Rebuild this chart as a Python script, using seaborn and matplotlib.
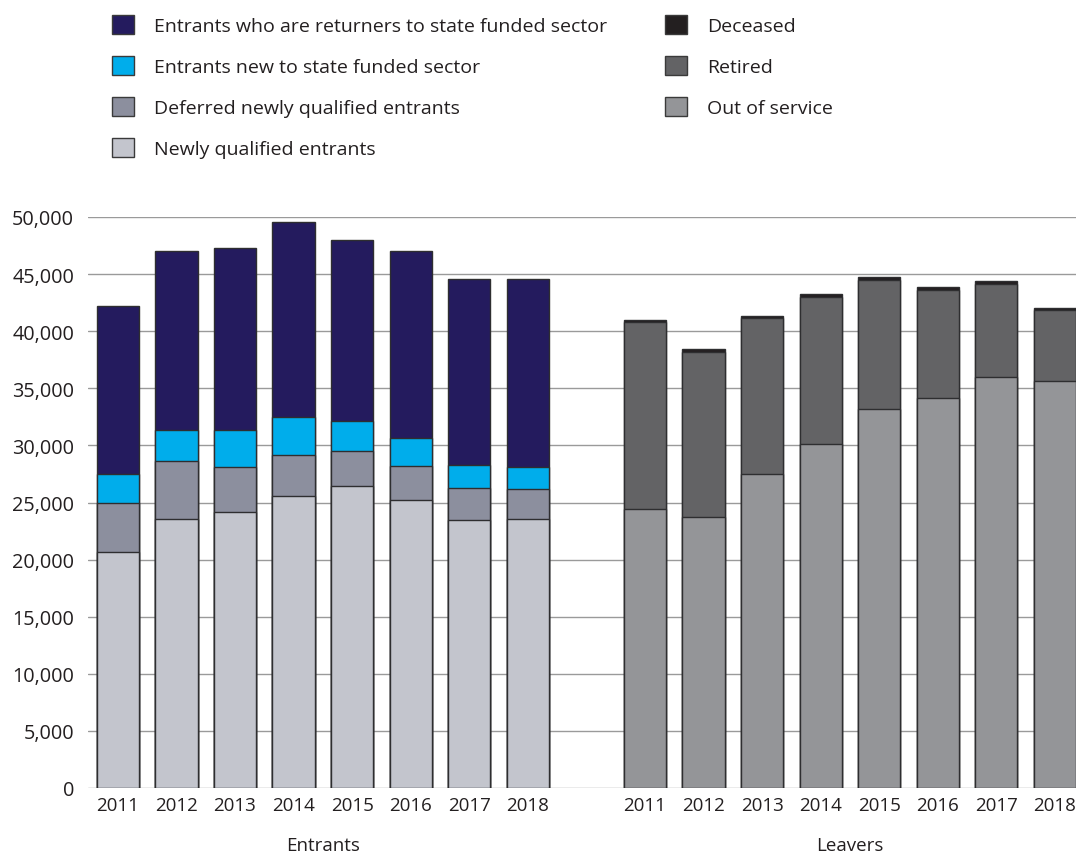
import pandas as pd
import seaborn as sns
import matplotlib.pyplot as plt
from matplotlib.patches import Patch

# --- Data ---
years = ['2011', '2012', '2013', '2014', '2015', '2016', '2017', '2018']

# Entrants, bottom to top
newly_qualified = [20650, 23550, 24150, 25600, 26450, 25200, 23500, 23550]
deferred_nq = [4300, 5080, 3990, 3590, 3030, 3020, 2770, 2630]
new_to_sector = [2540, 2750, 3240, 3270, 2690, 2400, 2040, 1960]
returners = [14760, 15620, 15940, 17140, 15850, 16430, 16260, 16430]

# Leavers, bottom to top
out_of_service = [24430, 23730, 27500, 30120, 33190, 34150, 36020, 35610]
retired = [16350, 14470, 13630, 12850, 11320, 9490, 8140, 6270]
deceased = [200, 240, 230, 290, 210, 230, 210, 180]

colors = {
    'Entrants who are returners to state funded sector': '#241b5e',
    'Entrants new to state funded sector': '#00adeb',
    'Deferred newly qualified entrants': '#8c8f9e',
    'Newly qualified entrants': '#c3c5cd',
    'Deceased': '#231f20',
    'Retired': '#636365',
    'Out of service': '#949598',
}
edge = '#2e2e30'

# slots: 8 entrant bars, an empty gap, 8 leaver bars
order = ['E' + y for y in years] + ['gap'] + ['L' + y for y in years]

sns.set_style('white')
plt.rcParams['font.family'] = ['Open Sans', 'DejaVu Sans']

fig = plt.figure(figsize=(10.76, 8.54), dpi=100)
ax = fig.add_axes([88 / 1076, 1 - 789 / 854, 1 - 88 / 1076, (789 - 218) / 854])

def stacked(prefix, layers):
    # draw cumulative totals from the top down, so each layer covers the one above
    df = pd.DataFrame({'slot': [prefix + y for y in years]})
    cum = [0] * len(years)
    tops = []
    for name, vals in layers:
        cum = [c + v for c, v in zip(cum, vals)]
        tops.append((name, list(cum)))
    for name, vals in reversed(tops):
        df['h'] = vals
        sns.barplot(data=df, x='slot', y='h', order=order, color=colors[name],
                    saturation=1, width=0.72, edgecolor=edge, linewidth=1.0,
                    errorbar=None, ax=ax)

stacked('E', [('Newly qualified entrants', newly_qualified),
              ('Deferred newly qualified entrants', deferred_nq),
              ('Entrants new to state funded sector', new_to_sector),
              ('Entrants who are returners to state funded sector', returners)])
stacked('L', [('Out of service', out_of_service),
              ('Retired', retired),
              ('Deceased', deceased)])

ax.set_ylim(0, 50000)
ax.set_xlim(-0.51, len(order) - 1 + 0.36)
ax.set_yticks(range(0, 50001, 5000))
ax.set_yticklabels([f'{v:,}' for v in range(0, 50001, 5000)], fontsize=14.3, color='#231f20')
ax.set_xticks(range(len(order)))
ax.set_xticklabels(years + [''] + years, fontsize=13.5, color='#231f20')
ax.tick_params(axis='y', length=0, pad=10)
ax.tick_params(axis='x', length=0, pad=6)
ax.set_xlabel('')
ax.set_ylabel('')
ax.yaxis.grid(True, color='#9a9a9a', linewidth=1.0)
ax.set_axisbelow(True)
for s in ax.spines.values():
    s.set_visible(False)

# group labels under the years
ax.text(3.5, -0.1, 'Entrants', transform=ax.get_xaxis_transform(),
        ha='center', va='center', fontsize=13.5, color='#231f20')
ax.text(12.5, -0.1, 'Leavers', transform=ax.get_xaxis_transform(),
        ha='center', va='center', fontsize=13.5, color='#231f20')

# legends: entrants on the left, leavers on the right
def make_legend(names, x):
    handles = [Patch(facecolor=colors[n], edgecolor='#3a3a3a', linewidth=1.0) for n in names]
    leg = fig.legend(handles, names, loc='upper left', bbox_to_anchor=(x, 1 - 16 / 854),
                     frameon=False, fontsize=14, handlelength=1.15, handleheight=1.15,
                     handletextpad=1.0, labelspacing=1.07, borderpad=0, borderaxespad=0)
    for t in leg.get_texts():
        t.set_color('#231f20')
    return leg

make_legend(['Entrants who are returners to state funded sector',
             'Entrants new to state funded sector',
             'Deferred newly qualified entrants',
             'Newly qualified entrants'], 112 / 1076)
make_legend(['Deceased', 'Retired', 'Out of service'], 665 / 1076)

plt.savefig('out.png', dpi=100)
